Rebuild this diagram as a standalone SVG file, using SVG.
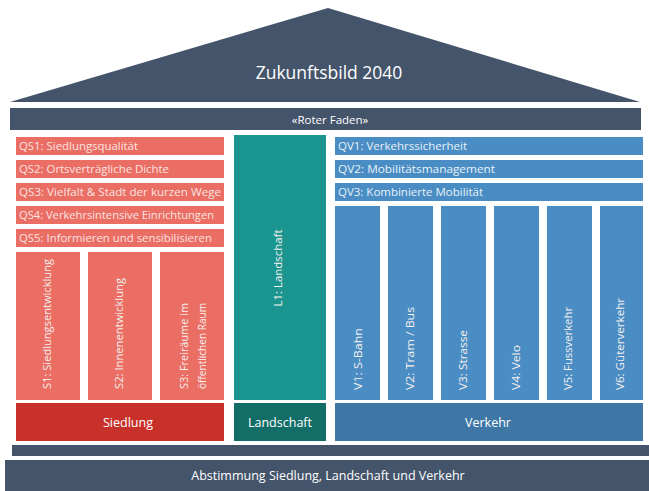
<svg xmlns="http://www.w3.org/2000/svg" width="649" height="491" viewBox="0 0 649 491">
<style>
text{font-family:"Open Sans","Liberation Sans",sans-serif;fill:#fff}
.slate{fill:#44546A}
.red{fill:#EA6E64}
.dred{fill:#C8302A}
.teal{fill:#1A958F}
.dteal{fill:#146E68}
.blue{fill:#4A8DC4}
.dblue{fill:#3E76A6}
.q{font-size:10.5px;fill:#FBE3E0}
.qv{font-size:10.5px;fill:#E8F1F8}
.v{font-size:10px;fill:#F6F0EF}
.base{font-size:12.5px;text-anchor:middle}
</style>
<rect width="649" height="491" fill="#fff"/>
<g id="roof">
<polygon class="slate" points="328,8 640,102 10,102"/>
<text x="329" y="79" text-anchor="middle" font-size="17.5">Zukunftsbild 2040</text>
</g>
<g id="roter-faden">
<rect class="slate" x="10" y="108" width="631" height="22"/>
<text x="330" y="123.5" text-anchor="middle" font-size="11.5">«Roter Faden»</text>
</g>
<g id="qs1"><rect class="red" x="16" y="137" width="208" height="18"/><text class="q" x="19" y="150" textLength="119" lengthAdjust="spacingAndGlyphs">QS1: Siedlungsqualität</text></g>
<g id="qs2"><rect class="red" x="16" y="160" width="208" height="18"/><text class="q" x="19" y="173" textLength="150" lengthAdjust="spacingAndGlyphs">QS2: Ortsverträgliche Dichte</text></g>
<g id="qs3"><rect class="red" x="16" y="183" width="208" height="18"/><text class="q" x="19" y="196" textLength="202" lengthAdjust="spacingAndGlyphs">QS3: Vielfalt &amp; Stadt der kurzen Wege</text></g>
<g id="qs4"><rect class="red" x="16" y="206" width="208" height="18"/><text class="q" x="19" y="219" textLength="195" lengthAdjust="spacingAndGlyphs">QS4: Verkehrsintensive Einrichtungen</text></g>
<g id="qs5"><rect class="red" x="16" y="229" width="208" height="18"/><text class="q" x="19" y="242" textLength="193" lengthAdjust="spacingAndGlyphs">QS5: Informieren und sensibilisieren</text></g>
<g id="s1"><rect class="red" x="16" y="252" width="64" height="148"/><text class="v" transform="translate(51,389) rotate(-90)" textLength="130" lengthAdjust="spacingAndGlyphs">S1: Siedlungsentwicklung</text></g>
<g id="s2"><rect class="red" x="88" y="252" width="64" height="148"/><text class="v" transform="translate(123,389) rotate(-90)" textLength="111" lengthAdjust="spacingAndGlyphs">S2: Innenentwicklung</text></g>
<g id="s3"><rect class="red" x="160" y="252" width="64" height="148"/><text class="v" transform="translate(188,389) rotate(-90)" textLength="86" lengthAdjust="spacingAndGlyphs">S3: Freiräume im</text><text class="v" transform="translate(206,389) rotate(-90)" textLength="86" lengthAdjust="spacingAndGlyphs">öffentlichen Raum</text></g>
<g id="siedlung"><rect class="dred" x="16" y="403" width="208" height="38"/><text class="base" x="128" y="427">Siedlung</text></g>
<g id="l1"><rect class="teal" x="234" y="135" width="92" height="265"/><text class="v" transform="translate(282,268) rotate(-90)" text-anchor="middle" textLength="77" lengthAdjust="spacingAndGlyphs">L1: Landschaft</text></g>
<g id="landschaft"><rect class="dteal" x="234" y="403" width="92" height="38"/><text class="base" x="280" y="427">Landschaft</text></g>
<g id="qv1"><rect class="blue" x="335" y="137" width="308" height="18"/><text class="qv" x="338" y="150" textLength="129" lengthAdjust="spacingAndGlyphs">QV1: Verkehrssicherheit</text></g>
<g id="qv2"><rect class="blue" x="335" y="160" width="308" height="18"/><text class="qv" x="338" y="173" textLength="157" lengthAdjust="spacingAndGlyphs">QV2: Mobilitätsmanagement</text></g>
<g id="qv3"><rect class="blue" x="335" y="183" width="308" height="18"/><text class="qv" x="338" y="196" textLength="145" lengthAdjust="spacingAndGlyphs">QV3: Kombinierte Mobilität</text></g>
<g id="v1"><rect class="blue" x="335" y="206" width="45" height="194"/><text class="v" transform="translate(362,390) rotate(-90)" textLength="62" lengthAdjust="spacingAndGlyphs">V1: S-Bahn</text></g>
<g id="v2"><rect class="blue" x="388" y="206" width="45" height="194"/><text class="v" transform="translate(414,390) rotate(-90)" textLength="83" lengthAdjust="spacingAndGlyphs">V2: Tram / Bus</text></g>
<g id="v3"><rect class="blue" x="441" y="206" width="45" height="194"/><text class="v" transform="translate(467,390) rotate(-90)" textLength="60" lengthAdjust="spacingAndGlyphs">V3: Strasse</text></g>
<g id="v4"><rect class="blue" x="494" y="206" width="45" height="194"/><text class="v" transform="translate(520,390) rotate(-90)" textLength="45" lengthAdjust="spacingAndGlyphs">V4: Velo</text></g>
<g id="v5"><rect class="blue" x="547" y="206" width="45" height="194"/><text class="v" transform="translate(572,390) rotate(-90)" textLength="83" lengthAdjust="spacingAndGlyphs">V5: Fussverkehr</text></g>
<g id="v6"><rect class="blue" x="600" y="206" width="43" height="194"/><text class="v" transform="translate(624,390) rotate(-90)" textLength="92" lengthAdjust="spacingAndGlyphs">V6: Güterverkehr</text></g>
<g id="verkehr"><rect class="dblue" x="335" y="403" width="308" height="38"/><text class="base" x="488" y="427">Verkehr</text></g>
<g id="plinth"><rect class="slate" x="12" y="445" width="637" height="11"/></g>
<g id="abstimmung"><rect class="slate" x="5" y="460" width="644" height="31"/><text class="base" x="328" y="480" font-size="13">Abstimmung Siedlung, Landschaft und Verkehr</text></g>
<g id="connectors"/>
</svg>
